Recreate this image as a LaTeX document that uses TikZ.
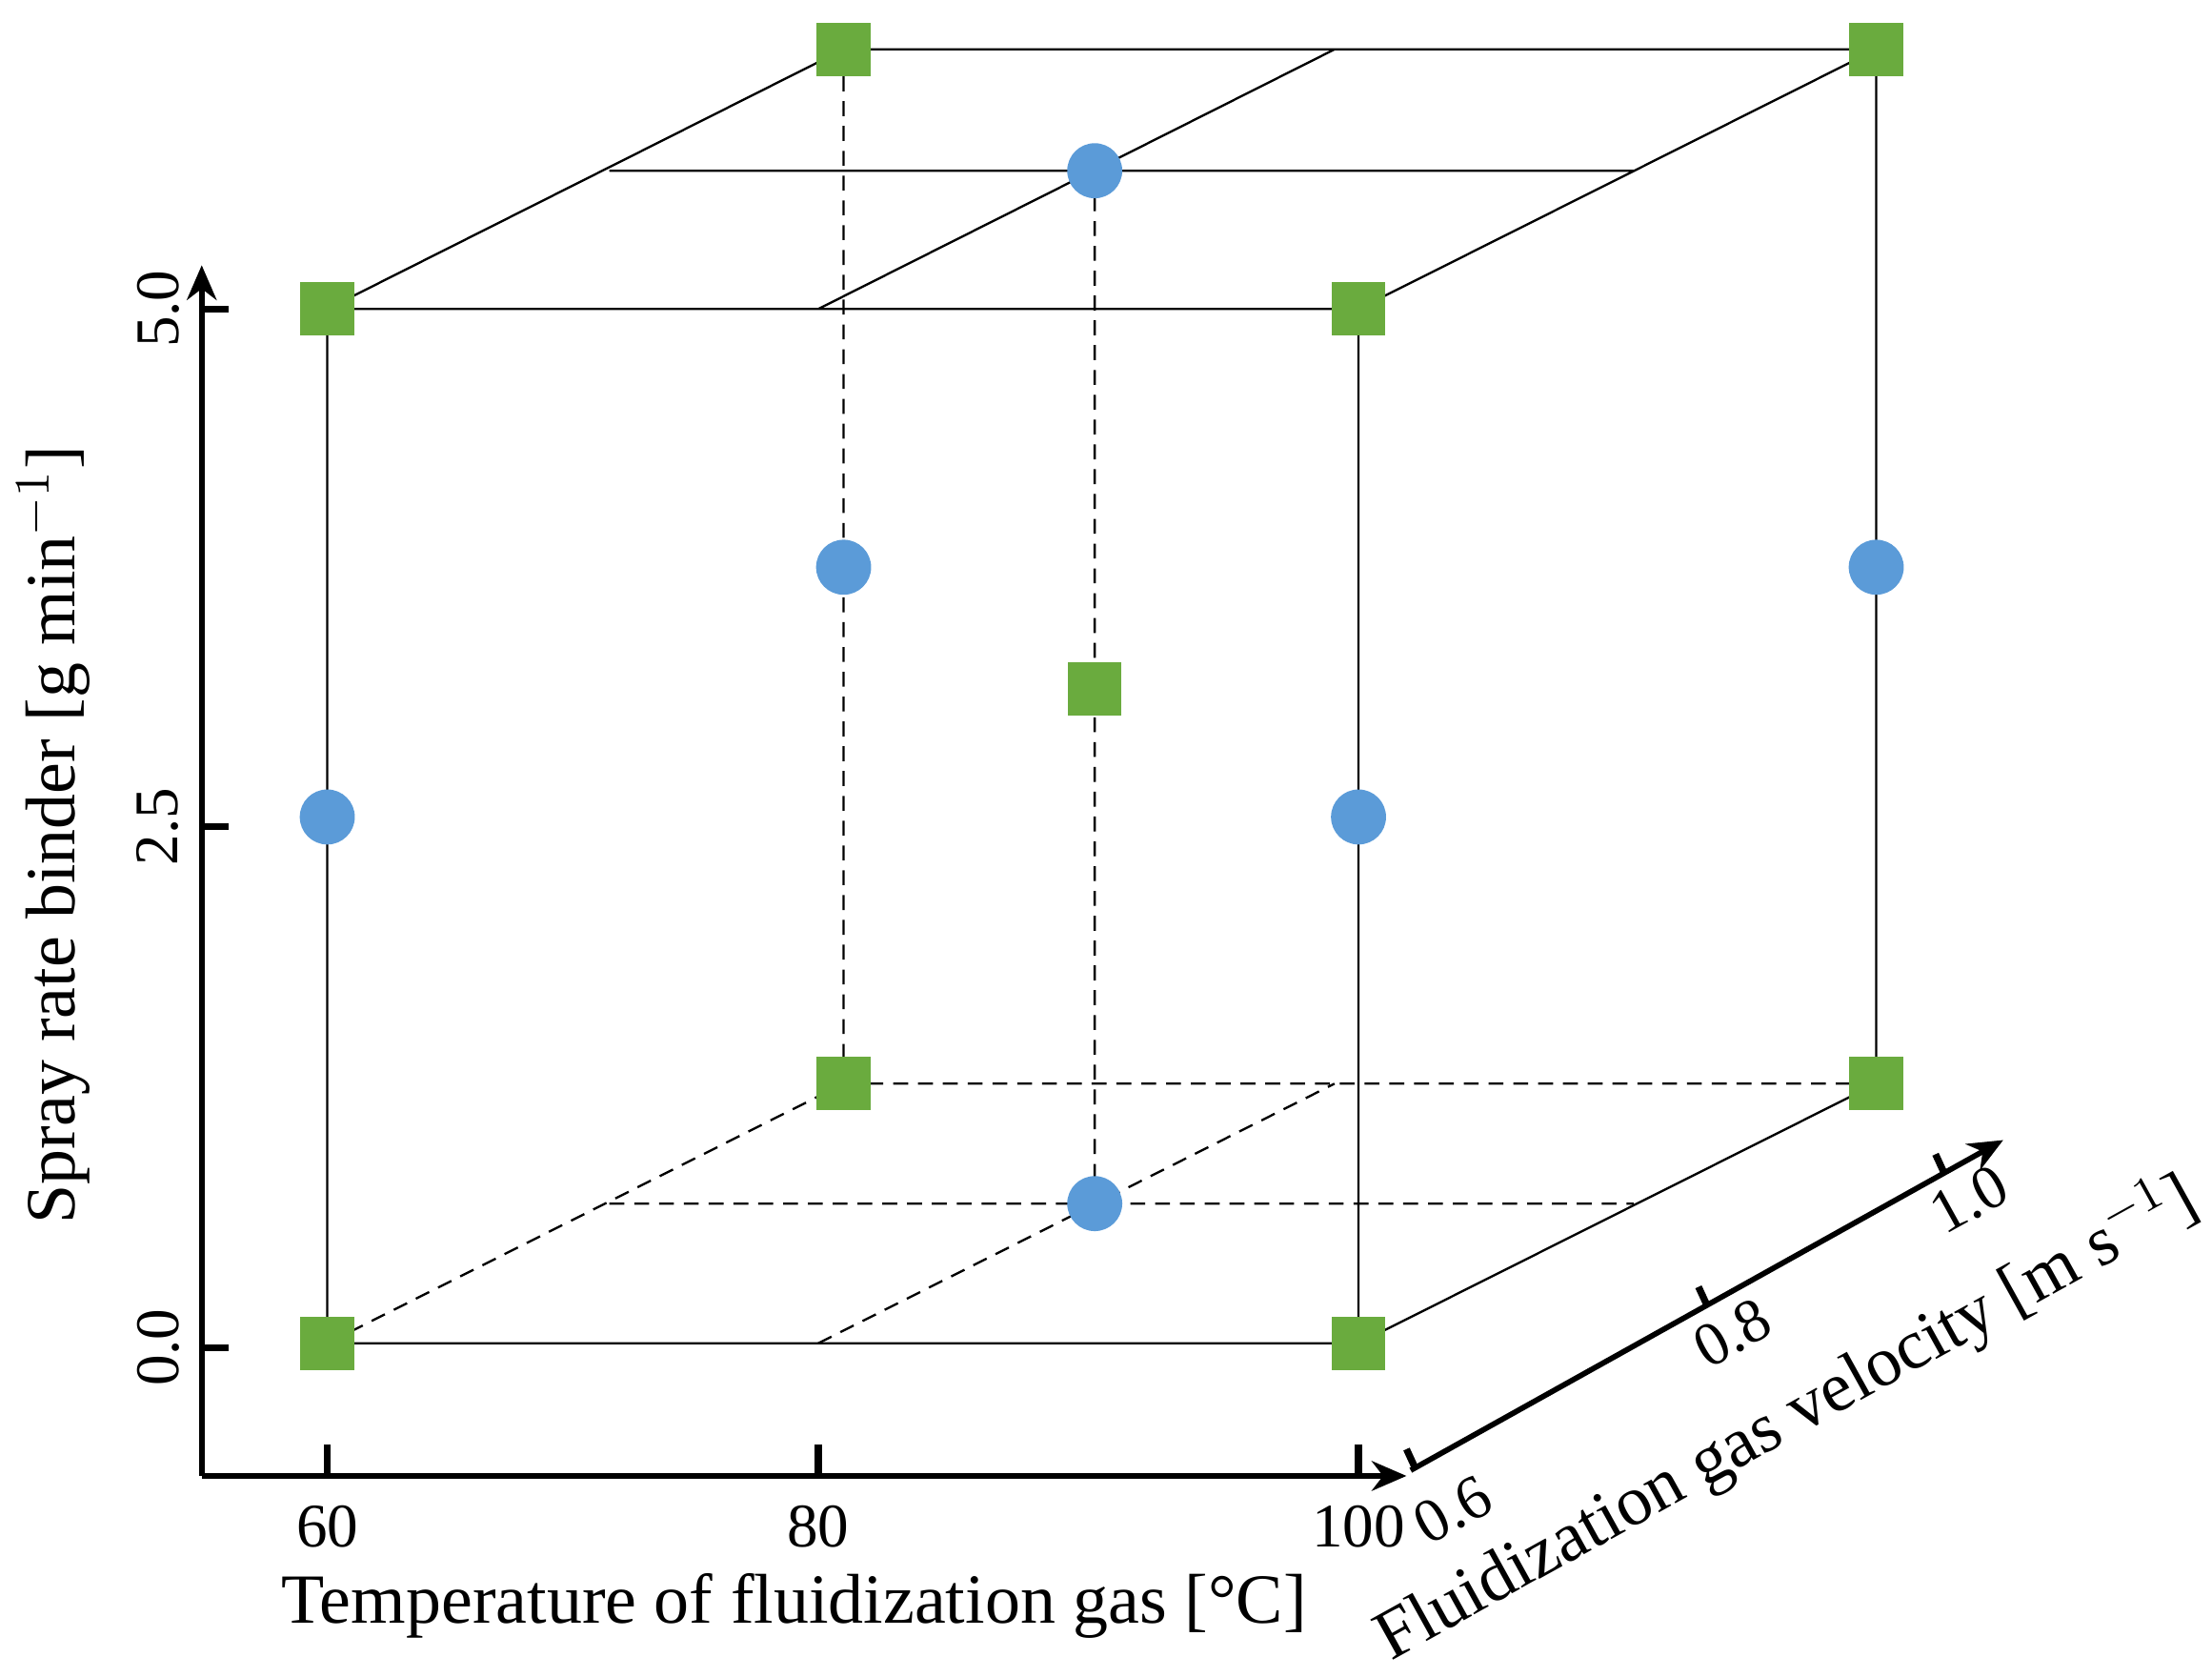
\documentclass[tikz,border=0pt]{standalone}
\usepackage{fontspec}
\setmainfont{Liberation Serif}
\usetikzlibrary{arrows.meta}
\begin{document}
\begin{tikzpicture}[x=0.01cm,y=-0.01cm,
 edge/.style={line width=0.45pt,black},
 hid/.style={edge,dashed,dash pattern=on 3pt off 2pt},
 sq/.style={draw=none,minimum size=0.38cm,inner sep=0pt,rectangle},
 ci/.style={draw=none,minimum size=0.39cm,inner sep=0pt,circle},
 ax/.style={line width=1.1pt,-{Stealth[length=7pt,width=6pt]}},
 tk/.style={line width=1.4pt},
 lab/.style={font=\fontsize{12.5}{14}\selectfont},
 ttl/.style={font=\fontsize{14.2}{16}\selectfont}]
\useasboundingbox (0,0) rectangle (1568,1188);
\definecolor{gr}{HTML}{6AAB3E}\definecolor{bl}{HTML}{5B9BD8}
\tikzset{sq/.append style={fill=gr},ci/.append style={fill=bl}}
% corners
\coordinate (A) at (232,952); \coordinate (B) at (963,952);
\coordinate (C) at (963,219); \coordinate (D) at (232,219);
\coordinate (E) at (598,768); \coordinate (F) at (1330,768);
\coordinate (G) at (1330,35); \coordinate (H) at (598,35);
\coordinate (m1) at (580,219); \coordinate (m2) at (946,35);
\coordinate (m3) at (432,121); \coordinate (m4) at (1158,121);
\coordinate (b1) at (580,952); \coordinate (b2) at (946,768);
\coordinate (b3) at (432,853); \coordinate (b4) at (1158,853);
\coordinate (ct) at (776,121); \coordinate (cb) at (776,853);
% edges
\draw[edge] (D)--(C) (H)--(G) (D)--(H) (C)--(G) (m1)--(m2) (m3)--(m4);
\draw[edge] (A)--(B) (B)--(F) (A)--(D) (B)--(C) (F)--(G);
\draw[hid] (A)--(E) (E)--(F) (b1)--(b2) (b3)--(b4) (E)--(H) (cb)--(ct);
% markers
\foreach \p/\n in {A/sA,B/sB,C/sC,D/sD,E/sE,F/sF,G/sG,H/sH}{\node[sq] (\n) at (\p) {};}
\node[sq] (sM) at (776,488) {};
\node[ci] (c1) at (232,579) {};
\node[ci] (c2) at (963,579) {};
\node[ci] (c3) at (598,402) {};
\node[ci] (c4) at (1330,402) {};
\node[ci] (c5) at (ct) {};
\node[ci] (c6) at (cb) {};
% axes
\coordinate (o) at (143,1046);
\coordinate (yt) at (143,188);
\coordinate (xt) at (997,1046);
\draw[ax] (o)--(yt);
\draw[ax] (o)--(xt);
\foreach \y/\t in {219/5.0,586/2.5,955/0.0}{
 \draw[tk] (143,\y)--(162,\y);
 \node[lab,rotate=90] (y\t) at (112,\y) {\t};}
\foreach \x/\t in {232/60,580/80,963/100}{
 \draw[tk] (\x,1046)--(\x,1024);
 \node[lab] (x\t) at (\x,1082) {\t};}
\node[ttl,rotate=90] (ylab) at (38,592) {Spray rate binder [g min$^{-1}$]};
\node[ttl] (xlab) at (563,1138) {Temperature of fluidization gas [°C]};
% depth axis
\coordinate (z0) at (1000,1042); \coordinate (z1) at (1420,808);
\draw[ax] (z0)--(z1);
\foreach \x/\y/\t/\lx/\ly in {1003/1040/0.6/1030/1070,1210/925/0.8/1228/945,1378/831/1.0/1396/850}{
 \draw[tk] (\x,\y)--++(-6,-13);
 \node[lab,rotate=29] (z\t) at (\lx,\ly) {\t};}
\node[ttl,rotate=29] (zlab) at (1266,1005) {Fluidization gas velocity [m s$^{-1}$]};
\end{tikzpicture}
\end{document}
